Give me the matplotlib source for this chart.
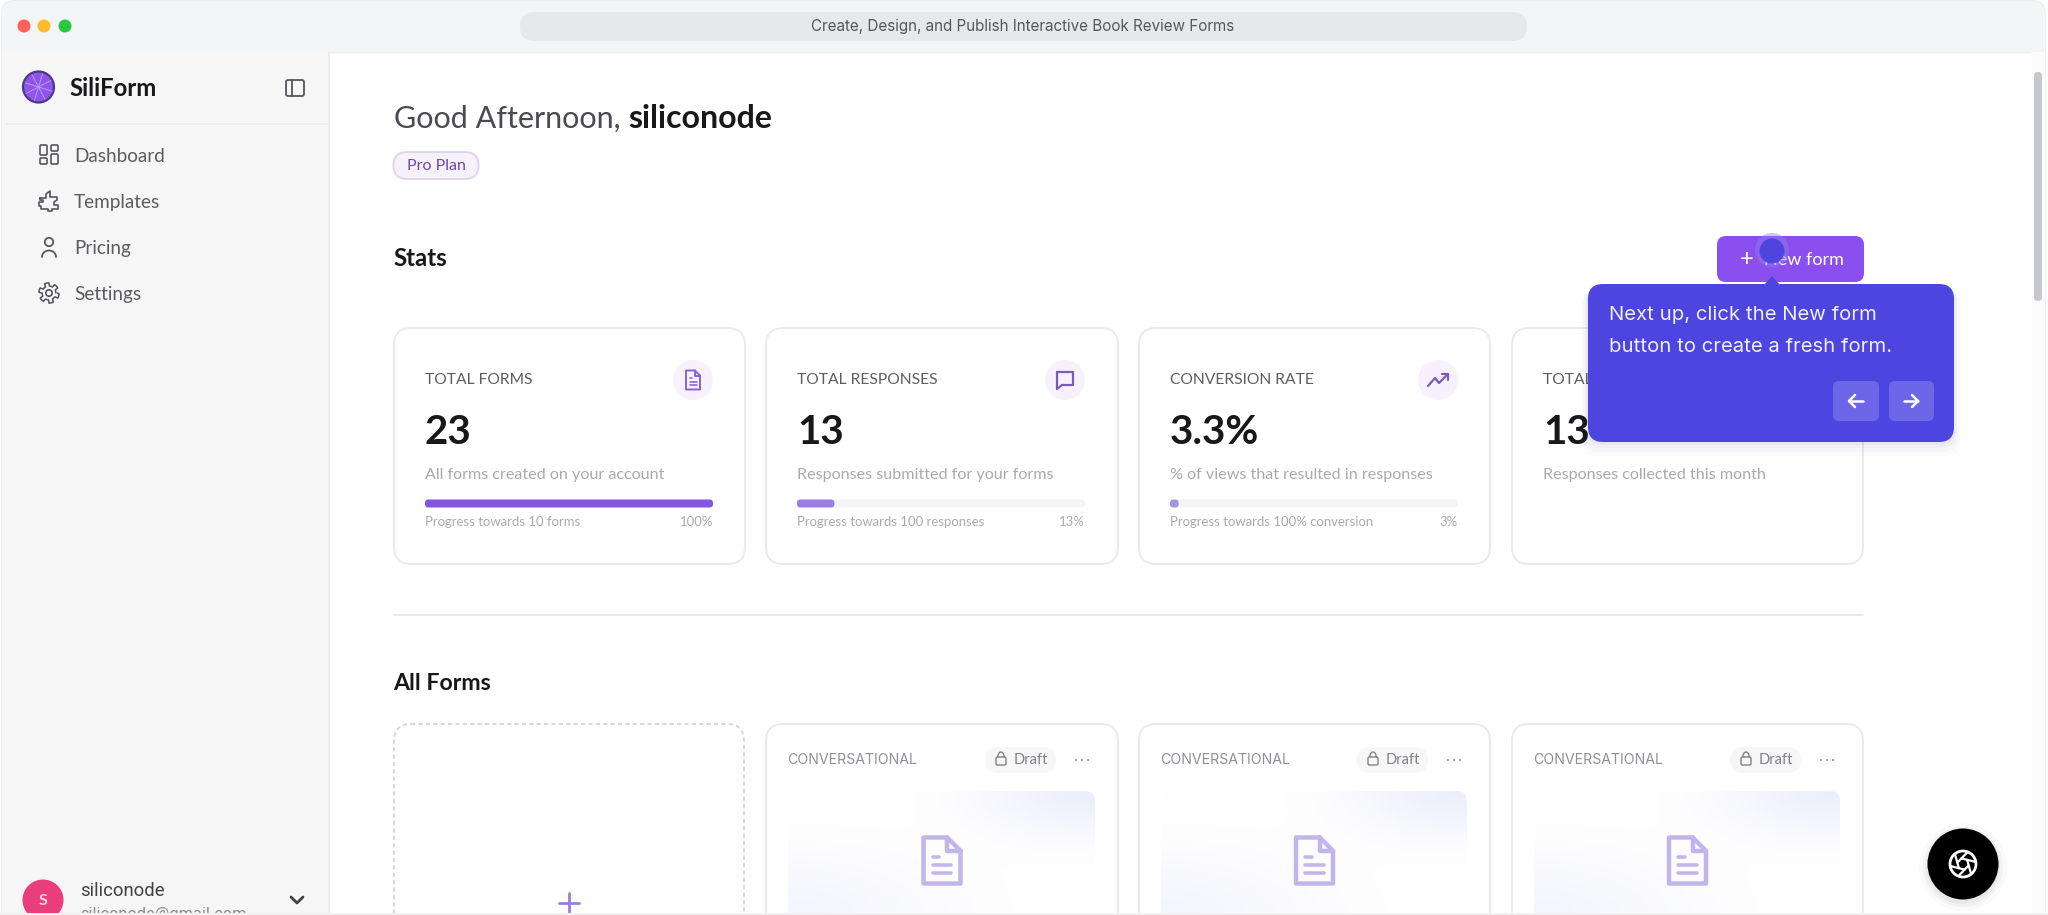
"""Recreate the SiliForm dashboard screenshot with matplotlib."""

import numpy as np
import matplotlib
matplotlib.use("Agg")
import matplotlib.pyplot as plt
from matplotlib.patches import Circle, FancyBboxPatch, Polygon, Rectangle

# Content of the screenshot
URL_TITLE = "Create, Design, and Publish Interactive Book Review Forms"
NAV_ITEMS = ["Dashboard", "Templates", "Pricing", "Settings"]
NAV_ICONS = ["grid", "puzzle", "person", "gear"]
CARD_TITLES = ["TOTAL FORMS", "TOTAL RESPONSES", "CONVERSION RATE", "TOTAL RESPONSES"]
CARD_VALUES = ["23", "13", "3.3%", "13"]
CARD_NOTES = [
    "All forms created on your account",
    "Responses submitted for your forms",
    "% of views that resulted in responses",
    "Responses collected this month",
]
CARD_CAPTIONS = ["Progress towards 10 forms", "Progress towards 100 responses", "Progress towards 100% conversion"]
CARD_PROGRESS = [100, 13, 3]
CARD_ICONS = ["doc", "chat", "trend"]
TOOLTIP_LINES = ["Next up, click the New form", "button to create a fresh form."]

SANS = "Lato"
UI = "Inter"
INK = "#18181b"
GREY = "#5c5e63"
PALE = "#a8aaaf"
BORDER = "#e9eaed"

fig = plt.figure(figsize=(20.48, 9.15), dpi=100)
ax = fig.add_axes([0, 0, 1, 1])
ax.set_xlim(0, 2048)
ax.set_ylim(915, 0)
ax.axis("off")


def box(x0, y0, x1, y1, r, face, edge="none", lw=1.0, z=1, alpha=None, ls="-"):
    patch = FancyBboxPatch((x0, y0), x1 - x0, y1 - y0, boxstyle=f"round,pad=0,rounding_size={r}",
                           facecolor=face, edgecolor=edge, linewidth=lw, zorder=z, alpha=alpha, linestyle=ls)
    ax.add_patch(patch)
    return patch


def line(xs, ys, color, lw=1.6, z=6):
    ax.plot(xs, ys, color=color, lw=lw, zorder=z, solid_capstyle="round", solid_joinstyle="round")


def label(x, y, s, size, color=INK, weight="normal", ha="left", family=SANS, z=7):
    return ax.text(x, y, s, fontsize=size, color=color, fontweight=weight, ha=ha, va="center", family=family, zorder=z)


def doc_icon(cx, cy, w, h, color, lw):
    x0, x1, y0, y1 = cx - w / 2, cx + w / 2, cy - h / 2, cy + h / 2
    fold = w * 0.36
    line([x1 - fold, x0, x0, x1, x1, x1 - fold], [y0, y0, y1, y1, y0 + fold, y0], color, lw)
    line([x1 - fold, x1 - fold, x1], [y0, y0 + fold, y0 + fold], color, lw)
    line([x0 + w * 0.25, x0 + w * 0.42], [cy - h * 0.08] * 2, color, lw * 0.8)
    line([x0 + w * 0.25, x1 - w * 0.25], [cy + h * 0.1] * 2, color, lw * 0.8)
    line([x0 + w * 0.25, x1 - w * 0.25], [cy + h * 0.28] * 2, color, lw * 0.8)


def chat_icon(cx, cy, color):
    line([cx - 8, cx + 8, cx + 8, cx - 3, cx - 8, cx - 8], [cy - 8, cy - 8, cy + 5, cy + 5, cy + 9, cy - 8], color, 1.6)


def trend_icon(cx, cy, color):
    line([cx - 10, cx - 3, cx + 1, cx + 10], [cy + 6, cy - 2, cy + 3, cy - 6], color, 1.6)
    line([cx + 4, cx + 10, cx + 10], [cy - 6, cy - 6, cy], color, 1.6)


def grid_icon(cx, cy, color):
    for x0, y0, w, h in [(-9, -10, 7, 10), (2, -10, 7, 6), (-9, 3, 7, 6), (2, -1, 7, 10)]:
        box(cx + x0, cy + y0, cx + x0 + w, cy + y0 + h, 1.2, "none", color, 1.2, z=6)


def puzzle_icon(cx, cy, color):
    xs = [-9, -3, -3, 1, 1, 8, 8, 5, 5, 9, 9, 3, 3, -1, -1, -8, -8, -10, -10, -6, -6, -9, -9]
    ys = [-3, -3, -7, -10, -4, -4, -1, 1, 4, 4, 8, 8, 10, 10, 8, 8, 5, 5, 1, 1, -1, -1, -3]
    line(cx + np.array(xs), cy + np.array(ys), color, 1.2)


def person_icon(cx, cy, color):
    ax.add_patch(Circle((cx, cy - 5), 4.2, fill=False, edgecolor=color, lw=1.3, zorder=6))
    t = np.linspace(np.pi, 2 * np.pi, 30)
    line(cx + 7 * np.cos(t), cy + 10 + 6.5 * np.sin(t), color, 1.3)


def gear_icon(cx, cy, color):
    t = np.linspace(0, 2 * np.pi, 97)
    r = 8.5 + 1.6 * np.sign(np.sin(6 * t))
    line(cx + r * np.cos(t), cy + r * np.sin(t), color, 1.1)
    ax.add_patch(Circle((cx, cy), 3.2, fill=False, edgecolor=color, lw=1.2, zorder=6))


def lock_icon(cx, cy, color):
    box(cx - 5, cy - 1, cx + 5, cy + 7, 1.5, "none", color, 1.0, z=6)
    t = np.linspace(np.pi, 2 * np.pi, 20)
    line(cx + 3.2 * np.cos(t), cy - 1 + 5 * np.sin(t), color, 1.0)


def aperture_icon(cx, cy, r):
    ax.add_patch(Circle((cx, cy), r, fill=False, edgecolor="white", lw=2.0, zorder=10))
    for i in range(6):
        a = i * np.pi / 3 + 0.25
        line([cx + 0.45 * r * np.cos(a), cx + r * np.cos(a + 1.69)],
             [cy + 0.45 * r * np.sin(a), cy + r * np.sin(a + 1.69)], "white", 1.6, z=10)


# Window chrome
ax.add_patch(Rectangle((0, 0), 2048, 915, facecolor="#fdfdfd", edgecolor="none", zorder=0))
box(2, 1, 2045, 960, 12, "#ffffff", "#e9eaec", 1.0, z=1)
box(2, 1, 2045, 110, 12, "#f4f5f6", z=1.1)
ax.add_patch(Rectangle((329, 52), 1716, 70, facecolor="white", edgecolor="none", zorder=1.2))
ax.add_patch(Rectangle((2, 52), 327, 880, facecolor="#f6f6f7", edgecolor="none", zorder=1.2))
line([329, 329], [52, 915], "#e8e9eb", 1.2, z=1.3)
line([329, 2045], [52, 52], "#ededef", 1.0, z=1.3)
line([6, 329], [124, 124], "#ebecee", 1.4, z=1.3)
for x, c in zip([24, 44, 65], ["#fb6159", "#fdbc2e", "#27c840"]):
    ax.add_patch(Circle((x, 26), 6.5, facecolor=c, edgecolor="none", zorder=3))
box(520, 12, 1527, 41, 14.5, "#e7e8ea", z=3)
label(1023, 26, URL_TITLE, 10.95, "#55575c", ha="center", family=UI)

# Scrollbar
ax.add_patch(Rectangle((2031, 52), 14, 865, facecolor="#fbfbfb", edgecolor="none", zorder=1.4))
box(2034, 72, 2042, 301, 4, "#c7c8cb", z=2)

# Sidebar
ax.add_patch(Circle((38.5, 87), 15.5, facecolor="#8f55ea", edgecolor="#4b3a86", lw=1.6, zorder=4))
for a in np.arange(0, np.pi * 2, np.pi / 4):
    line([38.5, 38.5 + 14 * np.cos(a + 0.3)], [87, 87 + 14 * np.sin(a + 0.3)], "#b79af2", 0.7, z=5)
label(69, 88, "SiliForm", 17.2, INK, "bold")
box(286, 80, 304, 96, 2, "none", "#55575c", 1.3, z=5)
line([292, 292], [80, 96], "#55575c", 1.3)

ICON_DRAW = {"grid": grid_icon, "puzzle": puzzle_icon, "person": person_icon, "gear": gear_icon}
for i, (name, icon) in enumerate(zip(NAV_ITEMS, NAV_ICONS)):
    y = 155 + i * 46
    ICON_DRAW[icon](49, y, "#55575c")
    label(74, y + 1.5, name, 13.6, "#5a5c61")

ax.add_patch(Circle((43, 900), 20.5, facecolor="#e93d7c", edgecolor="none", zorder=4))
label(43, 901, "S", 11.5, "#ffd5e4", "bold", ha="center")
label(80, 891, "siliconode", 13.3, "#3f4145", family="Roboto")
label(80, 914, "siliconode@gmail.com", 11.8, "#8b8d92", family="Roboto")
line([291, 297, 303], [897, 903, 897], "#3f4145", 2.0)

# Header
label(394, 119, "Good Afternoon,", 22.0, "#4a4b50")
label(628, 119, "siliconode", 23.0, INK, "bold")
box(393.5, 152, 478.5, 179, 13.5, "#f7f1fc", "#ddd2ea", 1.3, z=3)
label(436, 166, "Pro Plan", 11.5, "#6d47a8", ha="center")
label(393, 258, "Stats", 17.3, INK, "bold")

# Stat cards
CARD_X = [(394, 745), (766, 1118), (1139, 1490), (1512, 1863)]
BAR_W = 288
ICON_FUNCS = {"chat": chat_icon, "trend": trend_icon}
BAR_COLORS = ["#8455e2", "#9a7de6", "#a594e2"]
for i, (x0, x1) in enumerate(CARD_X):
    box(x0, 328, x1, 564, 17, "white", BORDER, 1.4, z=2)
    tx = x0 + 31
    label(tx, 380, CARD_TITLES[i], 11.25, GREY)
    label(tx, 432, CARD_VALUES[i], 29, INK, "bold")
    label(tx, 475, CARD_NOTES[i], 11.6, PALE)
    if i < 3:
        ax.add_patch(Circle((tx + BAR_W - 20, 380), 20, facecolor="#f6f1fc", edgecolor="none", zorder=3))
        if CARD_ICONS[i] == "doc":
            doc_icon(tx + BAR_W - 20, 380, 14, 19, "#8a62d4", 1.4)
        else:
            ICON_FUNCS[CARD_ICONS[i]](tx + BAR_W - 20, 380, "#7a5bb8")
        box(tx, 499.5, tx + BAR_W, 507.5, 4, "#f4f4f5", z=3)
        box(tx, 499.5, tx + BAR_W * CARD_PROGRESS[i] / 100, 507.5, 3.5, BAR_COLORS[i], z=4)
        label(tx, 522, CARD_CAPTIONS[i], 9.45, PALE)
        label(tx + BAR_W, 522, f"{CARD_PROGRESS[i]}%", 9.45, PALE, ha="right")

line([394, 1863], [615, 615], "#e6e7ea", 1.3, z=2)

# All forms section
label(393, 684, "All Forms", 16.7, INK, "bold")
box(394, 724, 744, 960, 17, "white", "#d6d7da", 1.4, z=2, ls=(0, (2.2, 1.6)))
line([569, 569], [893, 913], "#9a7fd8", 2.0)
line([559, 579], [903, 903], "#9a7fd8", 2.0)

# Soft lavender wash for the form previews, top right and bottom left corners
gx, gy = np.meshgrid(np.linspace(0, 1, 80), np.linspace(0, 1, 80))
wash = np.clip(np.exp(-((1 - gx) ** 2 + gy ** 2) / 0.12) * 0.75 + np.exp(-(gx ** 2 + (1 - gy) ** 2) / 0.25) * 0.4, 0, 1)
lav = np.array([231, 233, 250]) / 255
rgb = np.ones((80, 80, 3)) + wash[..., None] * (lav - 1)

for x0, x1 in CARD_X[1:]:
    box(x0, 724, x1, 960, 17, "white", BORDER, 1.4, z=2)
    label(x0 + 21, 760, "CONVERSATIONAL", 10.2, "#8f9196", family=UI)
    box(x1 - 133, 747, x1 - 62, 773, 13, "#f7f7f8", z=3)
    lock_icon(x1 - 117, 758, "#808287")
    label(x1 - 104, 760, "Draft", 10.5, "#808287")
    for dx in (-6, 0, 6):
        ax.add_patch(Circle((x1 - 36 + dx, 760), 1.1, facecolor="#95979c", edgecolor="none", zorder=6))
    px0, px1 = x0 + 22, x1 - 23
    im = ax.imshow(rgb, extent=(px0, px1, 915, 791), zorder=3, aspect="auto", interpolation="bilinear")
    im.set_clip_path(box(px0, 791, px1, 960, 10, "none", z=3))
    doc_icon((px0 + px1) / 2 + 0.5, 860.5, 37, 46, "#c2b5ec", 3.2)

# Bottom edge of the window, covers anything scrolled past it
ax.add_patch(Rectangle((0, 913), 2048, 3, facecolor="#f0f0f1", edgecolor="none", zorder=12))
ax.set_xlim(0, 2048)
ax.set_ylim(915, 0)

# New form button and tooltip
box(1717, 236, 1864, 282, 9, "#8b4ff0", z=8)
label(1747, 259, "+", 17, "white", ha="center", z=9)
label(1843.5, 260, "New form", 13, "white", ha="right", z=9)
for off, a in [(14, 0.02), (10, 0.025), (6, 0.03), (3, 0.035)]:
    box(1588 - off / 2, 284 + off / 2, 1954 + off / 2, 442 + off, 16, "#3b3680", z=9, alpha=a)
box(1588, 284, 1954, 442, 15, "#4e45e0", z=10)
ax.add_patch(Polygon([[1764, 285], [1772, 276], [1780, 285]], facecolor="#4e45e0", edgecolor="none", zorder=10))
label(1609, 315.5, TOOLTIP_LINES[0], 14.6, "#eeeefc", family=UI, z=11)
label(1609, 346.5, TOOLTIP_LINES[1], 14.6, "#eeeefc", family=UI, z=11)
box(1833, 381, 1879, 421, 6, "#6d66e8", z=11)
box(1889, 381, 1934, 421, 6, "#6d66e8", z=11)
line([1849, 1863], [401, 401], "white", 1.8, z=12)
line([1855, 1849, 1855], [395, 401, 407], "white", 1.8, z=12)
line([1904, 1918], [401, 401], "white", 1.8, z=12)
line([1912, 1918, 1912], [395, 401, 407], "white", 1.8, z=12)
ax.add_patch(Circle((1772, 250), 17, facecolor="#8d7fe6", alpha=0.45, edgecolor="none", zorder=12))
ax.add_patch(Circle((1772, 251), 12.5, facecolor="#4e45e0", edgecolor="none", zorder=13))

# Recorder button
for r, a in [(44, 0.02), (40, 0.03), (37, 0.04)]:
    ax.add_patch(Circle((1963, 867), r, facecolor="black", alpha=a, edgecolor="none", zorder=8))
ax.add_patch(Circle((1963, 864), 35.5, facecolor="black", edgecolor="none", zorder=9))
aperture_icon(1963, 864, 13)

fig.savefig("out.png", dpi=100, facecolor="white")
plt.close(fig)
